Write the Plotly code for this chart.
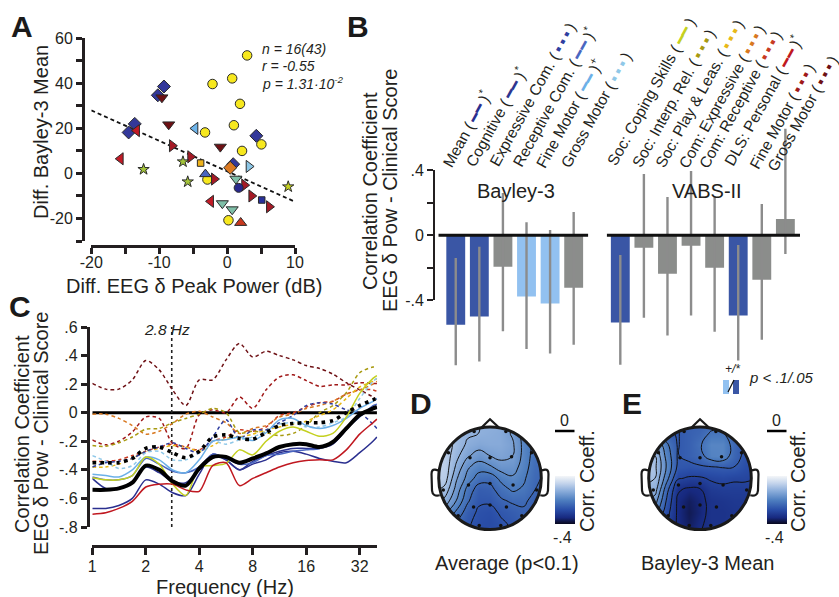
import numpy as np
import plotly.graph_objects as go

W, H = 839, 597
FONT = "Liberation Sans"
INK = "#231f20"

# ---------- Panel A ----------
A_groups = [
    # name, symbol, colour, size, xs, ys
    ("Mean", "circle", "#f7e81e", 9.5, [2.95, 0.75, -2.15, 1.9, 1.0, -3.25, 5.05, 2.2, -2.9, 0.2], [52.4, 42.2, 39.7, 30.9, 21.4, 18.2, 12.9, 10.0, -2.7, -20.8]),
    ("Cognitive", "diamond", "#33389a", 10, [-9.3, -10.2, -13.6, -14.5, 4.3, 0.9], [38.6, 34.7, 22.0, 18.2, 16.7, 4.1]),
    ("Gross down", "triangle-down", "#6e1014", 10.5, [-9.6, -8.6, -1.0], [33.7, 21.7, 11.8]),
    ("Red left", "triangle-left", "#c21a26", 10.5, [-13.3, -15.7, -2.4], [19.0, 6.5, -12.4]),
    ("Fine right", "triangle-right", "#a51a26", 10.5, [-8.1, -5.4, -1.9, 2.55, 3.6, 6.2], [12.3, 7.4, -2.5, -5.2, -10.0, -14.8]),
    ("Light left", "triangle-left", "#6eb4ea", 10.5, [-4.7], [20.0]),
    ("Light right", "triangle-right", "#8cc6e6", 10.5, [3.2], [3.1]),
    ("Stars", "star", "#a4c43a", 8.5, [-6.5, -12.3, -5.8], [5.2, 1.8, -3.7]),
    ("Star", "star", "#c4d020", 8.5, [9.0], [-5.9]),
    ("Play", "square", "#eeb21a", 6.5, [-3.9], [4.6]),
    ("Expr", "diamond", "#dc7a22", 10, [0.45], [2.5]),
    ("Recept up", "triangle-up", "#4a66c0", 10, [-3.2], [-0.3]),
    ("DLS up", "triangle-up", "#c8381e", 10.5, [2.0], [-21.9]),
    ("Teal", "triangle-down", "#7fbfa8", 10.5, [1.3, -0.7, 0.75], [-2.4, -13.3, -16.0]),
    ("Navy", "circle", "#28288c", 9, [1.7], [-6.4]),
    ("Navy sq", "square", "#28309a", 6.5, [5.1], [-11.8]),
]
trend_x = [-20, 9.8]
trend_y = [28, -12.3]

# ---------- Panel B ----------
bayley_names = ["Mean", "Cognitive", "Expressive Com.", "Receptive Com.", "Fine Motor", "Gross Motor"]
bayley_vals = [-.55, -.50, -.193, -.377, -.42, -.322]
bayley_hi = [-.14, -.07, .26, .08, .033, .144]
bayley_lo = [-.80, -.777, -.59, -.70, -.728, -.673]
bayley_cols = ["#3a56a5", "#3a56a5", "#8b8d8b", "#92c1f0", "#92c1f0", "#8b8d8b"]

vabs_names = ["Soc: Coping Skills", "Soc: Interp. Rel.", "Soc: Play & Leas.", "Com: Expressive", "Com: Receptive", "DLS: Personal", "Fine Motor", "Gross Motor"]
vabs_vals = [-.537, -.076, -.236, -.064, -.20, -.494, -.273, .10]
vabs_hi = [-.121, .377, .236, .396, .24, -.06, .193, .656]
vabs_lo = [-.796, -.507, -.617, -.494, -.593, -.771, -.642, -.115]
vabs_cols = ["#3a56a5", "#8b8d8b", "#8b8d8b", "#8b8d8b", "#8b8d8b", "#3a56a5", "#8b8d8b", "#8b8d8b"]

# ---------- Panel C ----------
freq = [1, 1.19, 1.41, 1.68, 2, 2.38, 2.83, 3.36, 4, 4.76, 5.66, 6.73, 8, 9.51, 11.3, 13.5, 16, 19, 22.6, 26.9, 32, 38, 40]
c_mean = [-.67, -.67, -.65, -.60, -.47, -.50, -.56, -.58, -.43, -.29, -.33, -.40, -.36, -.33, -.28, -.27, -.29, -.32, -.34, -.35, -.28, -.20, -.17]
c_cogn = [-.46, -.53, -.53, -.48, -.38, -.42, -.48, -.49, -.40, -.30, -.33, -.40, -.34, -.30, -.27, -.25, -.25, -.25, -.22, -.12, -.02, .03, .04]
c_expr = [-.38, -.35, -.34, -.32, -.27, -.24, -.21, -.25, -.28, -.17, -.05, -.18, -.12, -.12, -.07, -.02, .05, .07, .06, .02, 0, -.08, -.11]
c_recp = [-.45, -.47, -.47, -.44, -.32, -.36, -.41, -.42, -.38, -.29, -.32, -.36, -.35, -.30, -.29, -.27, -.26, -.25, -.20, -.11, -.03, .05, .06]
c_fine = [-.43, -.44, -.45, -.40, -.31, -.33, -.40, -.42, -.33, -.20, -.19, -.17, -.195, -.14, -.05, -.04, -.09, -.11, -.09, -.04, .03, .08, .10]
c_gros = [-.30, -.34, -.39, -.37, -.28, -.27, -.33, -.33, -.28, -.20, -.22, -.19, -.17, -.13, -.08, -.07, -.10, -.10, -.07, -.03, .10, .22, .24]
c_copi = [-.455, -.47, -.47, -.44, -.31, -.36, -.50, -.58, -.38, -.37, -.355, -.26, -.295, -.20, -.13, -.10, -.13, -.165, -.145, -.03, .135, .24, .26]
c_intr = [-.23, -.235, -.21, -.17, -.115, -.11, -.07, -.04, -.01, .03, 0, -.14, -.13, -.14, -.16, -.145, -.09, 0, .05, .14, .28, .32, .32]
c_play = [-.38, -.38, -.36, -.32, -.27, -.25, -.23, -.24, -.27, -.23, -.18, -.17, -.15, -.12, -.10, -.08, -.06, -.02, .02, .10, .18, .22, .24]
c_cexp = [-.01, -.01, -.04, -.09, -.15, -.13, -.075, -.01, .01, -.03, -.07, -.145, -.11, -.09, -.03, -.01, .03, .05, .08, .13, .16, .20, .22]
c_crec = [-.34, -.34, -.33, -.30, -.27, -.24, -.22, -.24, -.26, -.20, -.17, -.12, -.13, -.10, -.02, 0, .04, .07, .08, .13, .16, .16, .15]
c_dls = [-.71, -.70, -.67, -.62, -.52, -.50, -.50, -.54, -.55, -.37, -.35, -.51, -.46, -.42, -.38, -.35, -.335, -.33, -.33, -.26, -.15, -.07, -.045]
c_vfin = [-.19, -.225, -.20, -.135, -.03, -.04, -.215, -.25, -.015, .02, 0, .11, .03, .16, .25, .265, .225, .185, .195, .195, .21, .205, .205]
c_vgro = [.205, .165, .165, .23, .365, .30, .16, .05, .23, .23, .37, .485, .39, .43, .40, .37, .33, .31, .27, .21, .16, .11, .09]
c_black = [-.54, -.54, -.53, -.49, -.37, -.40, -.48, -.51, -.39, -.31, -.31, -.35, -.32, -.285, -.24, -.22, -.22, -.24, -.205, -.11, -.015, .03, .04]
c_dotted = [-.35, -.35, -.35, -.32, -.25, -.24, -.28, -.315, -.27, -.17, -.155, -.18, -.185, -.14, -.09, -.075, -.07, -.07, -.055, 0, .05, .09, .10]

c_series = [
    (c_vgro, "#6e1014", True), (c_vfin, "#a01818", True), (c_crec, "#c83a22", True),
    (c_cexp, "#d87820", True), (c_intr, "#a89a10", True), (c_play, "#e8b818", True),
    (c_gros, "#8fc8e8", True), (c_expr, "#2f3ea0", True), (c_mean, "#2a2f8f", False),
    (c_cogn, "#2d3590", False), (c_recp, "#4a66c0", False), (c_fine, "#6cb0e8", False),
    (c_copi, "#c4d020", False), (c_dls, "#c01820", False),
]
marker_freq = 2.8

# ---------- Panels D, E: scalp values on a coarse grid, top row first ----------
grid = [-1.1, -.88, -.66, -.44, -.22, 0, .22, .44, .66, .88, 1.1]
topo_d = [
    [-.08, -.09, -.10, -.115, -.12, -.12, -.125, -.14, -.18, -.21, -.22],
    [-.07, -.08, -.10, -.115, -.12, -.125, -.13, -.155, -.19, -.215, -.225],
    [-.06, -.07, -.10, -.125, -.135, -.13, -.13, -.145, -.19, -.22, -.23],
    [-.06, -.07, -.11, -.145, -.165, -.15, -.14, -.15, -.19, -.225, -.235],
    [-.06, -.07, -.125, -.175, -.195, -.185, -.165, -.165, -.195, -.23, -.24],
    [-.065, -.075, -.145, -.19, -.225, -.23, -.20, -.185, -.205, -.235, -.245],
    [-.08, -.10, -.16, -.22, -.255, -.25, -.225, -.205, -.215, -.24, -.25],
    [-.10, -.13, -.18, -.235, -.265, -.265, -.245, -.235, -.235, -.25, -.255],
    [-.14, -.17, -.215, -.255, -.275, -.28, -.265, -.255, -.245, -.255, -.26],
    [-.19, -.21, -.24, -.265, -.28, -.285, -.275, -.265, -.25, -.255, -.26],
    [-.22, -.23, -.25, -.27, -.28, -.285, -.28, -.27, -.26, -.26, -.26],
]
topo_e = [
    [-.26, -.26, -.265, -.262, -.25, -.25, -.24, -.24, -.25, -.265, -.27],
    [-.20, -.20, -.255, -.262, -.25, -.24, -.215, -.215, -.25, -.27, -.275],
    [-.12, -.13, -.21, -.262, -.25, -.225, -.19, -.19, -.235, -.27, -.28],
    [-.10, -.10, -.19, -.262, -.25, -.235, -.195, -.19, -.24, -.27, -.285],
    [-.08, -.09, -.18, -.265, -.27, -.265, -.262, -.258, -.26, -.28, -.29],
    [-.09, -.10, -.20, -.295, -.305, -.305, -.295, -.29, -.295, -.295, -.30],
    [-.11, -.12, -.24, -.335, -.347, -.343, -.315, -.31, -.31, -.31, -.31],
    [-.14, -.16, -.26, -.345, -.365, -.35, -.33, -.325, -.32, -.32, -.32],
    [-.18, -.20, -.28, -.345, -.37, -.352, -.33, -.33, -.325, -.32, -.32],
    [-.25, -.25, -.30, -.345, -.365, -.345, -.33, -.33, -.32, -.32, -.32],
    [-.30, -.30, -.32, -.345, -.35, -.34, -.33, -.32, -.32, -.32, -.32],
]
contour_start = [-.39, -.34]
contour_step = [.03, .04]
elec_x = [-.31, .31, -.81, .81, -.39, 0, .42, -.91, -.42, 0, .45, .91, -.32, 0, .32, -.62, .62, -.21, .21]
elec_y = [.91, .91, .5, .5, .4, .4, .42, -.23, -.13, -.10, -.13, -.23, -.56, -.52, -.56, -.73, -.73, -.92, -.92]
topo_scale = [
    [0, "#07071c"], [.05, "#0f1440"], [.13, "#17297f"], [.3, "#2a4ea8"],
    [.5, "#4f7fc0"], [.7, "#8fb0dc"], [.85, "#c5d5ec"], [1, "#f4f6f8"],
]


def pxx(x):
    return x / W


def pxy(y):
    return 1 - y / H


fig = go.Figure()
annotations = []
shapes = []


def ann(text, x, y, size=16, angle=0, xanchor="center", yanchor="middle", color=INK):
    annotations.append(dict(text=text, x=pxx(x), y=pxy(y), xref="paper", yref="paper", showarrow=False,
                            xanchor=xanchor, yanchor=yanchor, textangle=angle,
                            font=dict(family=FONT, size=size, color=color)))


tick_font = dict(family=FONT, size=16, color=INK)
layout_axes = {}

# --- A ---
layout_axes["xaxis"] = dict(domain=[pxx(91.3), pxx(295)], range=[-20, 10], anchor="free", position=pxy(246),
                            tickvals=[-20, -15, -10, -5, 0, 5, 10], ticktext=["-20", " ", "-10", " ", "0", " ", "10"],
                            ticks="outside", ticklen=6, tickwidth=2.5, tickcolor=INK, showline=True, linewidth=3,
                            linecolor=INK, showgrid=False, zeroline=False, tickfont=tick_font, tickangle=0,
                            ticklabelstandoff=-5)
layout_axes["yaxis"] = dict(domain=[pxy(241), pxy(38.3)], range=[-30, 60], anchor="free", position=pxx(83),
                            tickvals=list(range(-30, 61, 10)),
                            ticktext=[" ", "-20", " ", "0", " ", "20", " ", "40", " ", "60"],
                            ticks="outside", ticklen=6, tickwidth=2.5, tickcolor=INK, showline=True, linewidth=3,
                            linecolor=INK, showgrid=False, zeroline=False, tickfont=tick_font)
fig.add_trace(go.Scatter(x=trend_x, y=trend_y, mode="lines", line=dict(color="#111", width=1.8, dash="4px,3px"),
                         showlegend=False, xaxis="x", yaxis="y"))
for name, sym, col, size, xs, ys in A_groups:
    fig.add_trace(go.Scatter(x=xs, y=ys, mode="markers", name=name, showlegend=False, xaxis="x", yaxis="y",
                             cliponaxis=False,
                             marker=dict(symbol=sym, color=col, size=size, line=dict(color="#2a2a2a", width=1))))

# --- B bars ---
B_top, B_bottom = .7, -.85
Y0, PPU = 235.3, 162.5
b_dom = [pxy(Y0 - B_bottom * PPU), pxy(Y0 - B_top * PPU)]


def bars(names, vals, hi, lo, cols, xa, ya):
    pos = list(range(len(vals)))
    fig.add_trace(go.Bar(x=pos, y=vals, width=.8, marker=dict(color=cols, line=dict(width=0)), hovertext=names,
                         showlegend=False, xaxis=xa, yaxis=ya,
                         error_y=dict(type="data", symmetric=False,
                                      array=[h - v for h, v in zip(hi, vals)],
                                      arrayminus=[v - l for l, v in zip(lo, vals)],
                                      color="#8c8c8c", thickness=2.4, width=0)))


def hidden(domain, rng):
    return dict(domain=domain, range=rng, visible=False, showgrid=False, zeroline=False)


layout_axes["xaxis2"] = dict(hidden([pxx(438.3), pxx(588.3)], [-.74, 5.62]), anchor="y2")
layout_axes["yaxis2"] = dict(hidden(b_dom, [B_bottom, B_top]), anchor="x2")
layout_axes["xaxis3"] = dict(hidden([pxx(606.7), pxx(800)], [-.577, 7.62]), anchor="y3")
layout_axes["yaxis3"] = dict(hidden(b_dom, [B_bottom, B_top]), anchor="x3")
bars(bayley_names, bayley_vals, bayley_hi, bayley_lo, bayley_cols, "x2", "y2")
bars(vabs_names, vabs_vals, vabs_hi, vabs_lo, vabs_cols, "x3", "y3")
for xa, ya, rng in (("x2", "y2", [-.74, 5.62]), ("x3", "y3", [-.577, 7.62])):
    fig.add_trace(go.Scatter(x=rng, y=[0, 0], mode="lines", line=dict(color="#111", width=3), showlegend=False,
                             xaxis=xa, yaxis=ya))

# visible value axis of panel B
layout_axes["xaxis4"] = dict(hidden([pxx(434), pxx(588)], [0, 1]), anchor="y4")
layout_axes["yaxis4"] = dict(domain=[pxy(300.3), pxy(170.3)], range=[-.4, .4], anchor="free", position=pxx(434),
                             tickvals=[-.4, -.2, 0, .2, .4], ticktext=["-.4", " ", "0", " ", ".4"], ticks="outside",
                             ticklen=6, tickwidth=2.2, tickcolor=INK, showline=True, linewidth=2, linecolor=INK,
                             showgrid=False, zeroline=False, tickfont=tick_font)
fig.add_trace(go.Scatter(x=[0], y=[0], mode="markers", marker=dict(opacity=0), showlegend=False, xaxis="x4", yaxis="y4"))

# --- C ---
layout_axes["xaxis5"] = dict(domain=[pxx(92.3), pxx(377.3)], type="log", range=[0, np.log10(40.2)], anchor="free",
                             position=pxy(545.5), tickvals=[1, 2, 4, 8, 16, 32], ticktext=["1", "2", "4", "8", "16", "32"],
                             ticks="outside", ticklen=7, tickwidth=2.5, tickcolor=INK, showline=True, linewidth=3,
                             linecolor=INK, showgrid=False, zeroline=False, tickfont=tick_font, ticklabelstandoff=-2)
layout_axes["yaxis5"] = dict(domain=[pxy(527), pxy(327)], range=[-.8, .6], anchor="free", position=pxx(87.5),
                             tickvals=[-.8, -.6, -.4, -.2, 0, .2, .4, .6],
                             ticktext=["-.8", "-.6", "-.4", "-.2", "0", ".2", ".4", ".6"], ticks="outside", ticklen=6,
                             tickwidth=2.5, tickcolor=INK, showline=True, linewidth=2.5, linecolor=INK, showgrid=False,
                             zeroline=False, tickfont=tick_font)
fig.add_trace(go.Scatter(x=[freq[0], freq[-1]], y=[0, 0], mode="lines", line=dict(color="#000", width=3),
                         showlegend=False, xaxis="x5", yaxis="y5"))
fig.add_trace(go.Scatter(x=[marker_freq, marker_freq], y=[-.8, .6], mode="lines",
                         line=dict(color="#222", width=1.6, dash="3px,3px"), showlegend=False, xaxis="x5", yaxis="y5"))
for vals, col, dashed in c_series:
    fig.add_trace(go.Scatter(x=freq, y=vals, mode="lines", showlegend=False, xaxis="x5", yaxis="y5",
                             line=dict(color=col, width=1.5, shape="spline", smoothing=.8,
                                       dash="3.5px,3px" if dashed else "solid")))
fig.add_trace(go.Scatter(x=freq, y=c_black, mode="lines", showlegend=False, xaxis="x5", yaxis="y5",
                         line=dict(color="#000", width=4, shape="spline", smoothing=.8)))
fig.add_trace(go.Scatter(x=freq, y=c_dotted, mode="lines", showlegend=False, xaxis="x5", yaxis="y5",
                         line=dict(color="#000", width=3.6, shape="spline", smoothing=.8, dash="3.5px,4.5px")))

# --- D, E ---
R = 51.3
circle_pts = np.linspace(0, 2 * np.pi, 181)[:-1]
hole = " ".join(("M" if i == 0 else "L") + f" {np.cos(t):.4f} {np.sin(t):.4f}" for i, t in enumerate(circle_pts)) + " Z"
mask_path = "M -1.3 -1.3 L 1.3 -1.3 L 1.3 1.3 L -1.3 1.3 Z " + hole
ear_l = "M -.99 .15 L -1.07 .17 Q -1.14 .18 -1.14 .08 L -1.13 -.24 Q -1.12 -.36 -.98 -.33"
ear_r = "M .99 .15 L 1.07 .17 Q 1.14 .18 1.14 .08 L 1.13 -.24 Q 1.12 -.36 .98 -.33"
nose = "M -.17 .985 L 0 1.15 L .18 .985"

for idx, (topo, cx, cbx) in enumerate([(topo_d, 490, 555), (topo_e, 700, 767)]):
    n = 6 + idx
    xa, ya = f"x{n}", f"y{n}"
    half = 1.3 * R
    layout_axes[f"xaxis{n}"] = dict(hidden([pxx(cx - half), pxx(cx + half)], [-1.3, 1.3]), anchor=ya)
    layout_axes[f"yaxis{n}"] = dict(hidden([pxy(478.3 + half), pxy(478.3 - half)], [-1.3, 1.3]), anchor=xa)
    z = topo[::-1]
    ys = grid
    fig.add_trace(go.Heatmap(x=grid, y=ys, z=z, zmin=-.4, zmax=0, zsmooth="best", colorscale=topo_scale,
                             showscale=True, xaxis=xa, yaxis=ya, hoverinfo="skip",
                             colorbar=dict(x=pxx(cbx), xanchor="left", y=pxy(476), yanchor="top", lenmode="pixels",
                                           len=47.5, thicknessmode="pixels", thickness=19.5, xpad=0, ypad=0,
                                           outlinewidth=0, showticklabels=False, ticks="")))
    fig.add_trace(go.Contour(x=grid, y=ys, z=z, showscale=False, xaxis=xa, yaxis=ya, hoverinfo="skip",
                             contours=dict(coloring="lines", start=contour_start[idx], end=0, size=contour_step[idx]),
                             colorscale=[[0, "#111"], [1, "#111"]], line=dict(width=1, smoothing=1.3, color="#111")))
    fig.add_trace(go.Scatter(x=elec_x, y=elec_y, mode="markers", marker=dict(color="#111", size=3.5), showlegend=False,
                             xaxis=xa, yaxis=ya, hoverinfo="skip"))
    shapes.append(dict(type="path", path=mask_path, xref=xa, yref=ya, fillcolor="white", line=dict(width=0), layer="above"))
    shapes.append(dict(type="circle", x0=-1, x1=1, y0=-1, y1=1, xref=xa, yref=ya, line=dict(color="#1a1a1a", width=3), layer="above"))
    for p in (ear_l, ear_r, nose):
        shapes.append(dict(type="path", path=p, xref=xa, yref=ya, line=dict(color="#1a1a1a", width=2.2), layer="above"))
    shapes.append(dict(type="line", xref="paper", yref="paper", x0=pxx(cbx), x1=pxx(cbx + 19.5), y0=pxy(431), y1=pxy(431),
                       line=dict(color="#000", width=2.5)))

# legend swatch in panel B
shapes.append(dict(type="rect", xref="paper", yref="paper", x0=pxx(723), x1=pxx(729), y0=pxy(394), y1=pxy(380),
                   fillcolor="#92c1f0", line=dict(width=0)))
shapes.append(dict(type="rect", xref="paper", yref="paper", x0=pxx(733), x1=pxx(739), y0=pxy(394), y1=pxy(380),
                   fillcolor="#3a56a5", line=dict(width=0)))
shapes.append(dict(type="line", xref="paper", yref="paper", x0=pxx(728), x1=pxx(734), y0=pxy(392), y1=pxy(380),
                   line=dict(color="#111", width=1.2)))

# --- text ---
for t, x, y in (("A", 22, 26), ("B", 358, 26), ("C", 20, 306), ("D", 421, 403), ("E", 632, 403)):
    ann(f"<b>{t}</b>", x, y, size=30, color="#1a1a1a")
TITLE = 20
ann("Diff. Bayley-3 Mean", 41, 132, TITLE, -90)
ann("Diff. EEG δ Peak Power (dB)", 193.7, 286, TITLE)
ann("<i>n = 16(43)</i>", 260, 49, 14, xanchor="left")
ann("<i>r = -0.55</i>", 260, 66, 14, xanchor="left")
ann("<i>p = 1.31·10<sup>-2</sup></i>", 260, 83, 14, xanchor="left")
ann("Correlation Coefficient", 370, 191, TITLE, -90)
ann("EEG δ Pow - Clinical Score", 390, 191, TITLE, -90)
ann("Bayley-3", 516, 191, TITLE)
ann("VABS-II", 707, 191, TITLE)
ann("Correlation Coefficient", 22, 434, TITLE, -90)
ann("EEG δ Pow - Clinical Score", 41, 434, TITLE, -90)
ann("Frequency (Hz)", 225, 586.5, TITLE)
ann("<i>2.8 Hz</i>", 167, 330, 15.5)
ann("<i>p &lt; .1/.05</i>", 747, 377, 15, xanchor="left")
ann("<i>+/*</i>", 732, 369, 12)
for cx, lx in ((564, 587), (776.7, 798)):
    ann("0", cx, 420, 16)
    ann("-.4", cx - 2, 537, 16)
    ann("Corr. Coeff.", lx, 481, TITLE, -90)
ann("Average (p&lt;0.1)", 507, 562.7, TITLE)
ann("Bayley-3 Mean", 707.7, 562.7, TITLE)

SOLID = "━━"
DOTS = "▪\u2009▪\u2009▪"
labels = [
    ("Mean", "#2a2f8f", SOLID, "*", 466.7, 128),
    ("Cognitive", "#2d3590", SOLID, "*", 495.7, 117),
    ("Expressive Com.", "#2f3ea0", DOTS, "", 533, 95),
    ("Receptive Com.", "#4a66c0", SOLID, "*", 553.7, 97),
    ("Fine Motor", "#6cb0e8", SOLID, "+", 568.7, 113),
    ("Gross Motor", "#8fc8e8", DOTS, "", 596.7, 110),
    ("Soc: Coping Skills", "#c4d020", SOLID, "", 651.7, 92),
    ("Soc: Interp. Rel.", "#a89a10", DOTS, "", 673.3, 98),
    ("Soc: Play &amp; Leas.", "#e8b818", DOTS, "", 699.3, 93),
    ("Com: Expressive", "#d87820", DOTS, "", 721.7, 96),
    ("Com: Receptive", "#c83a22", DOTS, "", 740.7, 100),
    ("DLS: Personal", "#c01820", SOLID, "*", 763, 100),
    ("Fine Motor", "#a01818", DOTS, "", 781.7, 116),
    ("Gross Motor", "#6e1014", DOTS, "", 803, 114),
]
for name, col, glyph, mark, x, y in labels:
    sup = f"<sup>{mark}</sup>" if mark else ""
    ann(f'{name} (\u2009<span style="color:{col}">{glyph}</span>\u2009){sup}', x, y, 15.5, -61)

fig.update_layout(width=W, height=H, autosize=False,
                  margin=dict(l=0, r=0, t=0, b=0, pad=0, autoexpand=False), paper_bgcolor="white",
                  plot_bgcolor="rgba(0,0,0,0)", showlegend=False, barmode="overlay", annotations=annotations,
                  shapes=shapes, font=dict(family=FONT, color=INK), **layout_axes)
fig.write_html("out.html", config={"displayModeBar": False}, post_script="document.body.style.margin='0';")
